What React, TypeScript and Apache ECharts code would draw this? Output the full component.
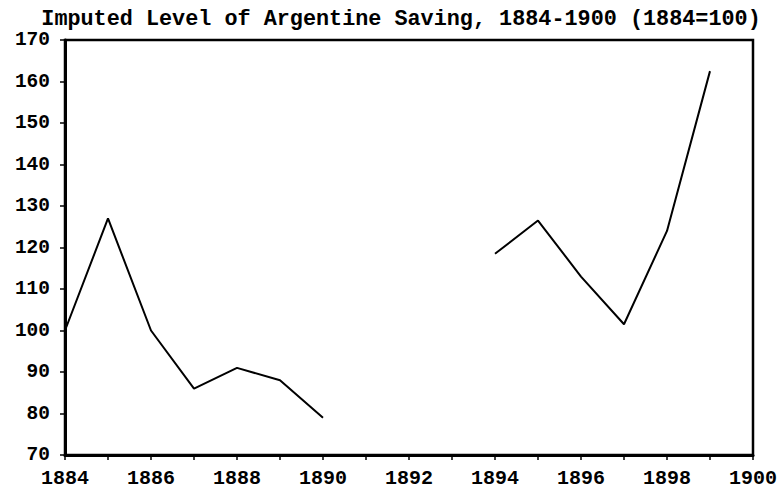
import React, { useEffect, useRef } from "react";
import * as echarts from "echarts";

const years = [1884, 1885, 1886, 1887, 1888, 1889, 1890, 1891, 1892, 1893, 1894, 1895, 1896, 1897, 1898, 1899];
const saving: (number | null)[] = [100, 127, 100, 86, 91, 88, 79, null, null, null, 118.5, 126.5, 113, 101.5, 124, 162.5];
const titleText = "Imputed Level of Argentine Saving, 1884-1900 (1884=100)";

export default function App() {
  const ref = useRef<HTMLDivElement>(null);
  useEffect(() => {
    if (!ref.current) return;
    const chart = echarts.init(ref.current, null, { renderer: "svg" });
    const font = "Liberation Mono";
    chart.setOption({
      animation: false,
      backgroundColor: "#ffffff",
      title: {
        text: titleText,
        left: 396,
        textAlign: "center",
        top: 3,
        textStyle: { fontFamily: font, fontWeight: "bold", fontSize: 21.8, color: "#000" },
      },
      grid: {
        left: 65,
        right: 26,
        top: 40,
        bottom: 41,
        show: true,
        borderColor: "#000",
        borderWidth: 2.5,
        backgroundColor: "transparent",
      },
      xAxis: {
        type: "value",
        min: 1884,
        max: 1900,
        interval: 1,
        axisLine: { show: true, lineStyle: { color: "#000", width: 3 } },
        axisTick: { show: true, inside: false, length: 5, lineStyle: { color: "#000", width: 1.5 } },
        splitLine: { show: false },
        axisLabel: {
          formatter: (v: number) => (v % 2 === 0 ? String(v) : ""),
          fontFamily: font,
          fontWeight: "bold",
          fontSize: 20,
          color: "#000",
          margin: 13,
          showMinLabel: true,
          showMaxLabel: true,
        },
      },
      yAxis: {
        type: "value",
        min: 70,
        max: 170,
        interval: 10,
        axisLine: { show: true, lineStyle: { color: "#000", width: 3 } },
        axisTick: { show: true, inside: false, length: 5, lineStyle: { color: "#000", width: 1.5 } },
        splitLine: { show: false },
        axisLabel: {
          fontFamily: font,
          fontWeight: "bold",
          fontSize: 19.5,
          color: "#000",
          margin: 15,
        },
      },
      series: [
        {
          type: "line",
          data: years.map((y, i) => [y, saving[i] === null ? "-" : saving[i]]),
          showSymbol: false,
          connectNulls: false,
          lineStyle: { color: "#000", width: 2 },
          itemStyle: { color: "#000" },
        },
      ],
    });
    return () => chart.dispose();
  }, []);
  return (
    <div
      ref={ref}
      style={{ position: "absolute", left: 0, top: 0, width: 780, height: 496 }}
    />
  );
}
